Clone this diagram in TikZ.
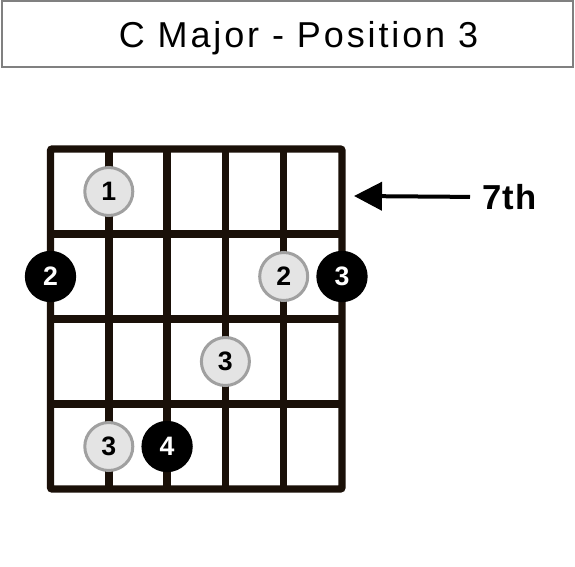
\documentclass[tikz,border=0pt]{standalone}
\usepackage{fontspec}
\setmainfont{Liberation Sans}
\newfontfamily\titlefont[LetterSpace=8]{Liberation Sans}
\newfontfamily\markfont[LetterSpace=4]{Liberation Sans}
\usetikzlibrary{arrows.meta, positioning}
\usepackage{xcolor}
\definecolor{fretink}{RGB}{26,16,8}
\definecolor{dotfill}{RGB}{228,228,228}
\definecolor{dotring}{RGB}{160,160,160}
\definecolor{boxline}{RGB}{128,128,128}

\begin{document}
\begin{tikzpicture}[
  x=0.75pt, y=-0.75pt,
  header/.style={rectangle, draw=boxline, line width=1.5pt, minimum width=428pt, minimum height=49pt, inner sep=0pt},
  heading/.style={anchor=base, inner sep=0pt, font=\titlefont\fontsize{27}{27}\selectfont},
  fretline/.style={draw=fretink, line width=5.6pt},
  finger/.style={circle, draw=dotring, fill=dotfill, line width=2.25pt, minimum size=36pt, inner sep=0pt, font=\bfseries\fontsize{20}{20}\selectfont},
  root/.style={circle, fill=black, text=white, minimum size=38.5pt, inner sep=0pt, font=\bfseries\fontsize{20}{20}\selectfont},
  marker/.style={inner sep=0pt, anchor=west, font=\markfont\bfseries\fontsize{26}{26}\selectfont},
  pointer/.style={line width=3pt, -{Triangle[length=21pt, width=21pt]}, shorten <=9pt}
]
\useasboundingbox (0,0) rectangle (575,567);

% Title box
\node[header] (header) at (287.5,34) {};
\node[heading] (title) at (298.5,47.5) {C Major - Position 3};

% Fretboard - frame
\draw[fretline, rounded corners=1.5pt] (50.5,149) rectangle (342,489);

% Fretboard - strings
\draw[fretline] (108.8,149) -- (108.8,489);
\draw[fretline] (167.1,149) -- (167.1,489);
\draw[fretline] (225.4,149) -- (225.4,489);
\draw[fretline] (283.7,149) -- (283.7,489);

% Fretboard - frets
\draw[fretline] (50.5,234) -- (342,234);
\draw[fretline] (50.5,319) -- (342,319);
\draw[fretline] (50.5,404) -- (342,404);

% Fret marker
\node[marker] (fretnum) at (482,197) {7th};
\coordinate (fretpoint) at (354,196);
\draw[pointer] (fretnum.west) -- (fretpoint);

% First fret
\node[finger] (indexA) at (108.8,191.5) {1};

% Second fret
\node[root] (rootA) at (50.5,276.5) {2};
\node[finger] (middleA) at (283.7,276.5) {2};
\node[root] (rootB) at (342,276.5) {3};

% Third fret
\node[finger] (ringA) at (225.4,361.5) {3};

% Fourth fret
\node[finger] (ringB) at (108.8,446.5) {3};
\node[root] (rootC) at (167.1,446.5) {4};

\end{tikzpicture}
\end{document}
